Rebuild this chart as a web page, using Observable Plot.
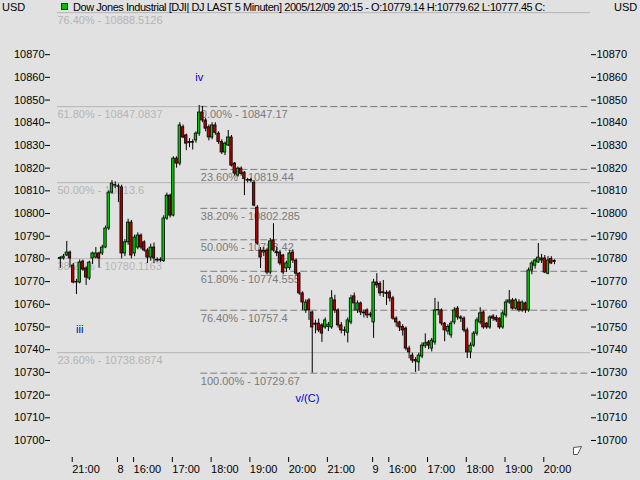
<!DOCTYPE html>
<html><head><meta charset="utf-8">
<script src="https://cdn.jsdelivr.net/npm/d3@7"></script>
<script src="https://cdn.jsdelivr.net/npm/@observablehq/plot@0.6"></script>
<style>
html,body{margin:0;padding:0;background:#e1e1e1;}
#wrap{position:relative;width:640px;height:480px;overflow:hidden;font-family:"Liberation Sans",Arial,sans-serif;}
.hdr{position:absolute;top:0;font-size:11px;color:#000;line-height:14px;white-space:nowrap;}
#icon{position:absolute;left:61px;top:3px;width:5px;height:5px;background:#00c000;border:1px solid #005000;}
#corner{position:absolute;left:572px;top:445px;}
</style></head><body><div id="wrap">
<div class="hdr" style="left:2px">USD</div>
<div id="icon"></div>
<div class="hdr" style="left:73px;letter-spacing:-0.45px" id="title"></div>
<div class="hdr" style="left:614px">USD</div>
<svg id="corner" width="12" height="12"><path d="M1.5,2.5 L9.5,1.5 L5.5,9.5 L1.5,9.5 Z" fill="#fff" stroke="#555"/></svg>
</div>
<script>
const titleText = "Dow Jones Industrial [DJI| DJ LAST 5 Minuten] 2005/12/09 20:15 - O:10779.14 H:10779.62 L:10777.45 C:";

// 5-minute bars, index 0 = 2005/12/07 20:40 ... index 153 = 2005/12/09 20:15
const open = [10780,10780.2,10781.5,10782.8,10777.1,10769.6,10769.6,10778.8,10775.8,10771.4,
10780.2,10780.6,10782.4,10782.4,10785,10793.4,10809.2,10812.5,10812,10811.5,
10782.4,10787.3,10796,10782.4,10785,10790.3,10787.3,10783.7,10780.6,10785,
10779.5,10779.3,10779,10797.8,10807.9,10799.1,10824.2,10822,10838,10834.4,
10831,10831.5,10832.2,10835.2,10844.5,10841,10838,10833.5,10838.8,10835.2,
10831.5,10826.9,10830,10833.5,10822,10816.7,10819.8,10818,10814.5,10814.8,
10813.6,10802.6,10783.7,10782.8,10783.7,10774,10788.1,10783,10782.8,10781.5,
10775.8,10776,10782.8,10779.3,10773.5,10764.8,10757.3,10761.7,10756.4,10751.5,
10751.5,10750.7,10749.8,10750,10749.8,10761.7,10757.3,10750.7,10748.5,10747.5,
10752,10763.5,10757.3,10760.4,10756.4,10757.3,10755.1,10752,10769.6,10769,
10765,10765,10765.2,10762.6,10753.7,10752,10750,10749.3,10740.5,10737.4,
10735.5,10734.4,10737,10741.5,10743.2,10740.5,10743.2,10757.3,10757.3,10751.5,
10748,10746.3,10752,10758.1,10754.2,10753.7,10748.5,10738.8,10741.8,10747.1,
10752,10756.4,10751.5,10749.8,10754.6,10754,10753.7,10749.8,10755.1,10760.8,
10761.7,10758.1,10760.8,10757.3,10760.4,10757.3,10774.9,10777,10778.4,10780.2,
10780.2,10773.5,10780,10779.14];
const high = [10781,10782,10787.7,10783.5,10778,10771,10779.5,10779.5,10776.5,10779,
10783,10785,10783,10786,10794.5,10810,10814.5,10814,10813,10812.5,
10788.5,10797.5,10797,10790.5,10791.5,10791,10788,10784.5,10786.5,10787,
10780.5,10780.5,10799,10809,10808.5,10825,10825,10840,10839,10835,
10833,10832.5,10836,10847.6,10847.2,10842,10839,10840,10840,10836,
10832.5,10831.5,10836.6,10834.4,10822.5,10820.5,10820.5,10818.5,10815.5,10815.5,
10814.5,10803.5,10785,10785,10784.5,10789,10795.5,10785,10783.5,10782,
10779,10783.5,10784,10780,10774,10765.5,10762,10762.5,10757,10753,
10753.5,10751.5,10754,10752,10766,10764,10758,10752,10750,10754,
10764,10765,10761.5,10761,10757.5,10758,10756.5,10771,10773.5,10770,
10770.5,10766,10766,10763.5,10754.5,10752.5,10751,10750,10741.5,10738.5,
10736.5,10738.5,10743,10747,10744,10745,10762.6,10761,10758,10752,
10751,10752.5,10758.5,10759,10755,10754.5,10749.5,10743,10748,10754,
10758.5,10757,10752,10755,10755.5,10755,10754,10757,10762,10766.1,
10762.5,10762.5,10762,10761.5,10761,10776,10779,10780,10786.8,10782,
10781.5,10781,10781,10779.62];
const low = [10775.8,10779.5,10781,10776,10769,10764.3,10769,10774.5,10768.3,10770.5,
10777.5,10780,10776,10781.5,10784.5,10792.5,10808.5,10811,10804.8,10780,
10781,10786,10780,10781,10784,10784,10783,10778,10779,10778,
10778.5,10778.5,10778.5,10797,10798,10798.5,10820,10821,10833,10827.7,
10829,10828,10831,10834,10840,10836,10832,10832.5,10834.5,10830.5,
10826,10825.5,10829.5,10820.5,10816.5,10816,10816.5,10807.9,10813.5,10813.5,
10803,10786,10775.8,10781,10773,10773,10783,10781,10777,10773,
10774,10775,10778,10772.5,10764,10757.3,10756,10752.9,10729.67,10747,
10747.5,10743.2,10749,10748,10749,10756,10749.5,10747,10746,10743,
10751,10757,10756,10755,10754,10753.7,10754,10745,10767,10763.5,
10763,10759.5,10761,10753,10750,10748,10746,10739.5,10736,10734,
10730,10730.5,10736,10740.5,10740,10739,10742,10755,10750.5,10743.5,
10746.5,10745,10751,10753,10752,10747.5,10736.1,10736,10741,10746,
10751,10749,10749,10749,10752.5,10752,10749,10749,10754,10760,
10757.5,10757.5,10756.5,10756.5,10756,10756.5,10773,10775.5,10778,10778,
10773.5,10773,10777.5,10777.45];
const close = [10780.4,10781,10782.8,10780.2,10769.6,10769.9,10778.4,10775.3,10771.8,10778.4,
10782.4,10782.4,10780.2,10785,10793.4,10809.2,10813.2,10812.3,10811.8,10782.4,
10787.3,10796,10781.5,10789.4,10790.3,10785,10783.7,10780.6,10785,10780.2,
10779.3,10779.6,10797.8,10807.9,10799.1,10824.2,10822,10838.8,10833.5,10830.8,
10831.5,10831.2,10835.2,10844.5,10841,10837.4,10833.5,10838.8,10835.5,10831.5,
10826.9,10830.8,10833.5,10821.1,10817.6,10819.8,10817.5,10815.3,10814.8,10814.5,
10803.5,10786.8,10780.6,10783.5,10774,10787.7,10783.7,10782.5,10778,10774,
10778,10782.4,10779.3,10773.5,10764.8,10760.8,10760.8,10757.3,10749.8,10751,
10748.5,10747.1,10752.9,10751,10762.6,10757.3,10750.7,10748.5,10748.3,10752.9,
10762.6,10760.4,10760.4,10756.4,10756,10755.1,10755.5,10769.6,10768.3,10764.8,
10765.3,10764.5,10762.6,10753.7,10752,10749.8,10748.5,10740.5,10738.8,10735.2,
10734.8,10737.4,10741.8,10742.8,10741.8,10744,10757.3,10757.5,10751.5,10748.5,
10750,10751.5,10757.3,10754.2,10753.7,10748.5,10738.8,10741.8,10747.1,10752.9,
10756,10749.8,10749.8,10754.2,10753.7,10752.9,10749.8,10756,10760.8,10761.7,
10758.1,10761.7,10757.3,10760.8,10757.3,10774.9,10778,10779.3,10780.6,10779.3,
10774,10779.3,10778,10778.6];

// time-axis labels (bar index -> label)
const xTickIdx = [4, 18, 23, 35, 47, 59, 71, 83, 97, 102, 114, 126, 138, 150];
const xTickLabel = ["21:00","8","16:00","17:00","18:00","19:00","20:00","21:00","9","16:00","17:00","18:00","19:00","20:00"];
const yTicks = [10700,10710,10720,10730,10740,10750,10760,10770,10780,10790,10800,10810,10820,10830,10840,10850,10860,10870];

// Fibonacci set A (solid) and set B (dashed)
const fibALabel = ["76.40% - 10888.5126","61.80% - 10847.0837","50.00% - 10813.6","38.20% - 10780.1163","23.60% - 10738.6874"];
const fibAValue = [10888.5126,10847.0837,10813.6,10780.1163,10738.6874];
const fibAStart = -0.9;
const fibBLabel = ["0.00% - 10847.17","23.60% - 10819.44","38.20% - 10802.285","50.00% - 10788.42","61.80% - 10774.555","76.40% - 10757.4","100.00% - 10729.67"];
const fibBValue = [10847.17,10819.44,10802.285,10788.42,10774.555,10757.4,10729.67];
const fibBStart = 43.5;

// Elliott wave labels
const waveLabel = ["iii","iv","v/(C)"];
const waveIdx = [6, 43, 76.5];
const wavePrice = [10749, 10860, 10718.5];

document.getElementById("title").textContent = titleText;

const bars = open.map((o, i) => ({i, open: o, high: high[i], low: low[i], close: close[i]}));
const fibA = fibAValue.map((v, k) => ({value: v, label: fibALabel[k]}));
const fibB = fibBValue.map((v, k) => ({value: v, label: fibBLabel[k]}));
const waves = waveLabel.map((t, k) => ({t, i: waveIdx[k], p: wavePrice[k]}));

const XMIN = -3.034, XMAX = 164.15;
const BG = "#e1e1e1";

const chart = Plot.plot({
  width: 640, height: 480,
  marginLeft: 50, marginRight: 50, marginTop: 9, marginBottom: 23,
  style: {background: "transparent", fontFamily: "'Liberation Sans', Arial, sans-serif", fontSize: "11px", color: "#000", overflow: "visible"},
  x: {type: "linear", domain: [XMIN, XMAX]},
  y: {domain: [10692.5, 10889.9]},
  marks: [
    Plot.ruleY(fibA, {y: "value", x1: fibAStart, x2: XMAX, stroke: "#b4b4b4", strokeWidth: 1}),
    Plot.ruleY(fibB, {y: "value", x1: fibBStart, x2: XMAX, stroke: BG, strokeWidth: 1}),
    Plot.ruleY(fibB, {y: "value", x1: fibBStart, x2: XMAX, stroke: "#7c7c7c", strokeWidth: 1, strokeDasharray: "7,3"}),
    Plot.text(fibA, {x: fibAStart, y: "value", text: "label", textAnchor: "start", dy: 8, fill: "#b4b4b4", fontSize: 11}),
    Plot.text(fibB, {x: fibBStart, y: "value", text: "label", textAnchor: "start", dy: 8, fill: "#7a7a7a", fontSize: 11}),
    Plot.text(waves, {x: "i", y: "p", text: "t", fill: "#0000c8", fontSize: 11}),
    Plot.ruleX(bars, {x: "i", y1: "low", y2: "high", stroke: "#000", strokeWidth: 1}),
    Plot.rect(bars, {x1: d => d.i - 0.5, x2: d => d.i + 0.5, y1: "open", y2: "close",
      insetLeft: 0.4, insetRight: 0.4,
      fill: d => d.close >= d.open ? "#00c800" : "#b00000", stroke: "#000", strokeWidth: 0.8}),
    Plot.axisY({anchor: "left", ticks: yTicks, tickFormat: d => String(d), tickSize: 5, tickPadding: 1, label: null, fontSize: 11}),
    Plot.axisY({anchor: "right", ticks: yTicks, tickFormat: d => String(d), tickSize: 5, tickPadding: 1, label: null, fontSize: 11}),
    Plot.axisX({anchor: "bottom", ticks: xTickIdx, tickFormat: d => xTickLabel[xTickIdx.indexOf(d)], textAnchor: "start", dx: -1, tickSize: 5, tickPadding: 3, label: null, fontSize: 11})
  ]
});
chart.style.position = "absolute";
chart.style.left = "0px";
chart.style.top = "0px";
const wrap = document.getElementById("wrap");
wrap.insertBefore(chart, wrap.firstChild);
</script>
</body></html>
